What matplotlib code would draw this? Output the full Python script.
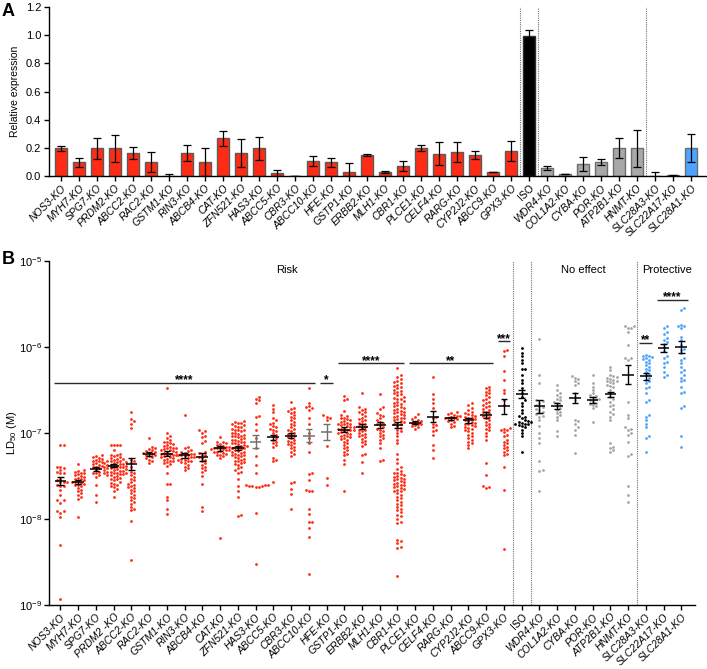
import numpy as np
import matplotlib
matplotlib.use('Agg')
import matplotlib.pyplot as plt
from matplotlib.ticker import NullLocator, FixedLocator
from matplotlib.transforms import blended_transform_factory

plt.rcParams['font.family'] = ['Liberation Sans', 'DejaVu Sans']
plt.rcParams['mathtext.fontset'] = 'custom'
plt.rcParams['mathtext.rm'] = 'Liberation Sans'
plt.rcParams['mathtext.it'] = 'Liberation Sans:italic'
plt.rcParams['mathtext.bf'] = 'Liberation Sans:bold'

# ---------------- data ----------------
labels_a = ['NOS3-KO', 'MYH7-KO', 'SPG7-KO', 'PRDM2-KO', 'ABCC2-KO', 'RAC2-KO', 'GSTM1-KO',
            'RIN3-KO', 'ABCB4-KO', 'CAT-KO', 'ZFN521-KO', 'HAS3-KO', 'ABCC5-KO', 'CBR3-KO',
            'ABCC10-KO', 'HFE-KO', 'GSTP1-KO', 'ERBB2-KO', 'MLH1-KO', 'CBR1-KO', 'PLCE1-KO',
            'CELF4-KO', 'RARG-KO', 'CYP2J2-KO', 'ABCC9-KO', 'GPX3-KO', 'ISO', 'WDR4-KO',
            'COL1A2-KO', 'CYBA-KO', 'POR-KO', 'ATP2B1-KO', 'HNMT-KO', 'SLC28A3-KO',
            'SLC22A17-KO', 'SLC28A1-KO']
labels_b = ['NOS3-KO', 'MYH7-KO', 'SPG7-KO', 'PRDM2 -KO', 'ABCC2-KO', 'RAC2-KO', 'GSTM1-KO',
            'RIN3-KO', 'ABCB4-KO', 'CAT-KO', 'ZFN521-KO', 'HAS3-KO', 'ABCC5-KO', 'CBR3-KO',
            'ABCC10-KO', 'HFE-KO', 'GSTP1-KO', 'ERBB2-KO', 'MLH1-KO', 'CBR1-KO', 'PLCE1-KO',
            'CELF4-KO', 'RARG-KO', 'CYP2J2-KO', 'ABCC9-KO', 'GPX3-KO', 'ISO', 'WDR4-KO',
            'COL1A2-KO', 'CYBA-KO', 'POR-KO', 'ATP2B1-KO', 'HNMT-KO', 'SLC28A3-KO',
            'SLC22A17-KO', 'SLC28A1-KO']
group_class = ['risk'] * 26 + ['iso'] + ['none'] * 6 + ['protective'] * 3

# Panel A: relative expression (mean, SD)
expr_mean = [0.196, 0.097, 0.196, 0.196, 0.163, 0.097, 0.0, 0.163, 0.097, 0.267, 0.163, 0.196,
             0.019, 0.0, 0.107, 0.097, 0.026, 0.149, 0.028, 0.071, 0.196, 0.159, 0.168, 0.149,
             0.028, 0.180, 0.996, 0.057, 0.014, 0.085, 0.097, 0.196, 0.196, 0.0, 0.005, 0.196]
expr_err = [0.017, 0.033, 0.072, 0.097, 0.043, 0.071, 0.017, 0.059, 0.100, 0.051, 0.097, 0.082,
            0.021, 0.0, 0.035, 0.033, 0.064, 0.004, 0.004, 0.034, 0.022, 0.079, 0.072, 0.031,
            0.003, 0.072, 0.038, 0.011, 0.003, 0.050, 0.022, 0.071, 0.130, 0.028, 0.005, 0.100]

# Panel B: log10 LD50 (M) of individual clones
nos3 = [-7.14, -7.14, -7.39, -7.39, -7.41, -7.43, -7.45, -7.47, -7.47, -7.53, -7.55, -7.57, -7.57,
        -7.57, -7.60, -7.62, -7.62, -7.66, -7.72, -7.78, -7.78, -7.81, -7.91, -7.91, -7.93, -7.98,
        -8.30, -8.93]
myh7 = [-7.36, -7.43, -7.44, -7.45, -7.46, -7.47, -7.48, -7.49, -7.50, -7.51, -7.52, -7.53, -7.54,
        -7.55, -7.56, -7.57, -7.57, -7.58, -7.59, -7.60, -7.61, -7.62, -7.64, -7.66, -7.68, -7.70,
        -7.72, -7.74, -7.77, -7.98]
spg7 = [-7.26, -7.27, -7.28, -7.29, -7.30, -7.31, -7.32, -7.33, -7.34, -7.35, -7.36, -7.37, -7.38,
        -7.39, -7.40, -7.41, -7.43, -7.45, -7.46, -7.47, -7.49, -7.51, -7.61, -7.72, -7.80]
prdm2 = [-7.14, -7.14, -7.14, -7.14, -7.20, -7.24, -7.25, -7.26, -7.27, -7.28, -7.29, -7.30, -7.30,
         -7.31, -7.32, -7.32, -7.33, -7.34, -7.34, -7.35, -7.35, -7.36, -7.36, -7.37, -7.37, -7.38,
         -7.38, -7.39, -7.39, -7.40, -7.40, -7.41, -7.41, -7.42, -7.42, -7.43, -7.43, -7.44, -7.44,
         -7.45, -7.45, -7.46, -7.46, -7.47, -7.47, -7.48, -7.48, -7.49, -7.49, -7.50, -7.51, -7.52,
         -7.53, -7.54, -7.55, -7.57, -7.58, -7.59, -7.60, -7.62, -7.63, -7.65, -7.68, -7.74]
abcc2 = [-6.76, -6.84, -6.86, -6.89, -6.94, -7.31, -7.33, -7.35, -7.39, -7.45, -7.47, -7.49, -7.51,
         -7.53, -7.55, -7.57, -7.59, -7.60, -7.62, -7.63, -7.64, -7.66, -7.68, -7.70, -7.72, -7.74,
         -7.76, -7.78, -7.80, -7.82, -7.86, -7.88, -7.90, -8.02, -8.48]
rac2 = [-7.06, -7.16, -7.18, -7.19, -7.20, -7.21, -7.22, -7.23, -7.23, -7.24, -7.25, -7.26, -7.27,
        -7.28, -7.29, -7.31, -7.32, -7.35]
gstm1 = [-6.48, -7.00, -7.04, -7.06, -7.08, -7.10, -7.11, -7.12, -7.13, -7.14, -7.15, -7.16, -7.17,
         -7.18, -7.18, -7.19, -7.20, -7.20, -7.21, -7.22, -7.22, -7.23, -7.24, -7.24, -7.25, -7.26,
         -7.26, -7.27, -7.28, -7.28, -7.29, -7.30, -7.31, -7.32, -7.33, -7.34, -7.35, -7.36, -7.38,
         -7.47, -7.59, -7.59, -7.74, -7.78, -7.88, -7.94]
rin3 = [-6.79, -7.16, -7.18, -7.20, -7.21, -7.22, -7.23, -7.24, -7.24, -7.25, -7.26, -7.26, -7.27,
        -7.28, -7.28, -7.29, -7.30, -7.31, -7.31, -7.32, -7.33, -7.34, -7.35, -7.37, -7.39, -7.41,
        -7.43]
abcb4 = [-6.97, -6.98, -7.00, -7.04, -7.05, -7.09, -7.12, -7.22, -7.23, -7.25, -7.26, -7.28, -7.29,
         -7.31, -7.33, -7.35, -7.37, -7.39, -7.41, -7.43, -7.45, -7.50, -7.59, -7.86, -7.91]
cat = [-7.05, -7.10, -7.11, -7.12, -7.13, -7.14, -7.15, -7.16, -7.16, -7.17, -7.17, -7.18, -7.18,
       -7.19, -7.19, -7.20, -7.20, -7.21, -7.22, -7.22, -7.23, -7.24, -7.25, -7.26, -7.27, -7.29,
       -8.22]
zfn521 = [-6.86, -6.87, -6.88, -6.88, -6.90, -6.91, -6.92, -6.93, -6.93, -6.95, -6.96, -6.97, -6.97,
          -6.98, -7.00, -7.00, -7.01, -7.02, -7.03, -7.04, -7.04, -7.05, -7.06, -7.07, -7.08, -7.08,
          -7.09, -7.10, -7.11, -7.12, -7.12, -7.13, -7.14, -7.15, -7.15, -7.16, -7.17, -7.18, -7.18,
          -7.19, -7.20, -7.21, -7.22, -7.22, -7.23, -7.24, -7.25, -7.26, -7.26, -7.27, -7.28, -7.29,
          -7.30, -7.31, -7.32, -7.33, -7.34, -7.35, -7.36, -7.37, -7.39, -7.41, -7.43, -7.45, -7.46,
          -7.54, -7.62, -7.68, -7.74, -7.95, -7.97]
has3 = [-6.58, -6.60, -6.62, -6.65, -6.80, -6.81, -6.89, -6.97, -7.06, -7.18, -7.27, -7.37, -7.47,
        -7.60, -7.61, -7.61, -7.62, -7.62, -7.62, -7.63, -7.63, -7.93, -8.52]
abcc5 = [-6.68, -6.72, -6.76, -6.83, -6.85, -6.88, -6.90, -6.92, -6.93, -6.95, -6.96, -6.98, -7.00,
         -7.02, -7.04, -7.06, -7.08, -7.10, -7.12, -7.14, -7.16, -7.29, -7.31, -7.33, -7.57]
cbr3 = [-6.64, -6.71, -6.72, -6.74, -6.75, -6.77, -6.79, -6.81, -6.83, -6.85, -6.87, -6.89, -6.91,
        -6.93, -6.95, -6.97, -6.98, -7.00, -7.01, -7.02, -7.04, -7.05, -7.06, -7.08, -7.09, -7.10,
        -7.12, -7.13, -7.14, -7.16, -7.18, -7.20, -7.22, -7.24, -7.27, -7.57, -7.58, -7.65, -7.71,
        -7.88]
abcc10 = [-6.48, -6.65, -6.69, -6.70, -6.71, -6.73, -6.83, -6.89, -7.00, -7.06, -7.12, -7.22, -7.46,
          -7.48, -7.55, -7.66, -7.67, -7.68, -7.88, -7.94, -8.03, -8.04, -8.10, -8.21, -8.64]
hfe = [-6.79, -6.81, -6.82, -6.85, -7.15, -7.52, -7.60]
gstp1 = [-6.57, -6.60, -6.62, -6.74, -6.79, -6.80, -6.82, -6.83, -6.84, -6.85, -6.86, -6.87, -6.88,
         -6.89, -6.90, -6.90, -6.91, -6.92, -6.93, -6.93, -6.94, -6.95, -6.95, -6.96, -6.97, -6.97,
         -6.98, -6.99, -7.00, -7.00, -7.01, -7.02, -7.03, -7.04, -7.05, -7.06, -7.07, -7.08, -7.10,
         -7.12, -7.14, -7.16, -7.18, -7.20, -7.22, -7.24, -7.26, -7.31, -7.36, -7.68]
erbb2 = [-6.54, -6.70, -6.72, -6.73, -6.75, -6.76, -6.78, -6.80, -6.82, -6.84, -6.85, -6.86, -6.88,
         -6.89, -6.90, -6.92, -6.93, -6.94, -6.96, -6.97, -6.98, -7.00, -7.01, -7.02, -7.04, -7.05,
         -7.07, -7.09, -7.11, -7.13, -7.15, -7.24, -7.26, -7.34, -7.46]
mlh1 = [-6.55, -6.70, -6.72, -6.77, -6.79, -6.80, -6.83, -6.85, -6.87, -6.88, -6.90, -6.91, -6.93,
        -6.95, -6.96, -6.98, -7.00, -7.02, -7.04, -7.06, -7.08, -7.12, -7.18, -7.31, -7.32]
cbr1 = [-6.24, -6.33, -6.35, -6.37, -6.39, -6.41, -6.42, -6.44, -6.45, -6.47, -6.48, -6.50, -6.51,
        -6.52, -6.54, -6.55, -6.56, -6.58, -6.59, -6.60, -6.61, -6.63, -6.64, -6.65, -6.66, -6.68,
        -6.69, -6.70, -6.71, -6.72, -6.73, -6.74, -6.75, -6.76, -6.77, -6.78, -6.79, -6.80, -6.81,
        -6.82, -6.83, -6.84, -6.85, -6.86, -6.87, -6.88, -6.89, -6.90, -6.92, -6.94, -6.96, -6.98,
        -7.00, -7.04, -7.08, -7.12, -7.24, -7.30, -7.35, -7.40, -7.42, -7.44, -7.46, -7.47, -7.48,
        -7.49, -7.50, -7.51, -7.52, -7.53, -7.54, -7.55, -7.56, -7.57, -7.58, -7.59, -7.60, -7.61,
        -7.62, -7.63, -7.64, -7.65, -7.66, -7.67, -7.68, -7.70, -7.72, -7.74, -7.76, -7.78, -7.80,
        -7.82, -7.84, -7.86, -7.88, -7.90, -7.92, -7.95, -7.97, -8.00, -8.04, -8.05, -8.24, -8.26,
        -8.28, -8.32, -8.34, -8.66]
plce1 = [-6.78, -6.81, -6.84, -6.85, -6.86, -6.87, -6.88, -6.89, -6.90, -6.91, -6.92, -6.93, -6.95]
celf4 = [-6.35, -6.55, -6.60, -6.65, -6.71, -6.81, -6.83, -6.89, -6.91, -6.93, -6.97, -6.98, -7.02,
         -7.14, -7.20, -7.29]
rarg = [-6.76, -6.77, -6.78, -6.79, -6.80, -6.80, -6.81, -6.82, -6.83, -6.83, -6.84, -6.85, -6.86,
        -6.87, -6.89, -6.92, -6.93]
cyp2j2 = [-6.65, -6.67, -6.71, -6.73, -6.75, -6.77, -6.78, -6.79, -6.80, -6.81, -6.82, -6.83, -6.84,
          -6.85, -6.86, -6.87, -6.88, -6.89, -6.90, -6.91, -6.92, -6.93, -6.94, -6.95, -6.97, -6.98,
          -7.00, -7.02, -7.04, -7.06, -7.08, -7.10, -7.12, -7.14, -7.18]
abcc9 = [-6.46, -6.48, -6.50, -6.52, -6.54, -6.56, -6.58, -6.60, -6.62, -6.64, -6.65, -6.67, -6.69,
         -6.70, -6.72, -6.73, -6.75, -6.76, -6.77, -6.79, -6.80, -6.81, -6.83, -6.85, -6.87, -6.89,
         -6.91, -6.93, -6.95, -6.97, -7.00, -7.04, -7.08, -7.35, -7.49, -7.62, -7.63, -7.64]
gpx3 = [-6.03, -6.05, -6.11, -6.28, -6.38, -6.50, -6.54, -6.62, -6.67, -6.94, -6.95, -6.96, -6.97,
        -6.99, -7.02, -7.04, -7.08, -7.10, -7.12, -7.14, -7.16, -7.18, -7.20, -7.22, -7.24, -7.26,
        -7.39, -7.66, -8.35]
iso = [-6.01, -6.07, -6.11, -6.15, -6.19, -6.25, -6.25, -6.33, -6.38, -6.42, -6.48, -6.54, -6.58,
       -6.62, -6.65, -6.69, -6.73, -6.77, -6.80, -6.81, -6.83, -6.85, -6.86, -6.87, -6.87, -6.88,
       -6.89, -6.89, -6.90, -6.91, -6.92, -6.93, -6.96, -7.00, -7.04, -7.22]
wdr4 = [-5.91, -6.32, -6.42, -6.62, -6.63, -6.65, -6.67, -6.69, -6.70, -6.72, -6.73, -6.75, -6.77,
        -6.78, -6.80, -6.81, -6.85, -6.92, -7.00, -7.06, -7.12, -7.33, -7.43, -7.44, -7.68]
col1a2 = [-6.44, -6.50, -6.54, -6.56, -6.58, -6.60, -6.62, -6.64, -6.65, -6.67, -6.69, -6.71, -6.73,
          -6.75, -6.77, -6.79, -6.81, -6.85, -6.98, -7.04]
cyba = [-6.34, -6.36, -6.37, -6.40, -6.42, -6.44, -6.54, -6.58, -6.62, -6.85, -6.86, -6.89, -6.93,
        -6.96, -7.02, -7.23]
por = [-6.33, -6.42, -6.46, -6.50, -6.54, -6.56, -6.57, -6.58, -6.60, -6.61, -6.62, -6.63, -6.65,
       -6.66, -6.67, -6.69, -6.71, -6.87]
atp2b1 = [-6.23, -6.27, -6.33, -6.34, -6.35, -6.36, -6.37, -6.38, -6.39, -6.40, -6.41, -6.42, -6.44,
          -6.45, -6.47, -6.50, -6.54, -6.58, -6.61, -6.64, -6.67, -6.69, -6.72, -6.75, -6.78, -6.81,
          -6.85, -7.12, -7.16, -7.18, -7.20, -7.22]
hnmt = [-5.76, -5.76, -5.78, -5.78, -5.82, -5.98, -6.13, -6.13, -6.15, -6.64, -6.79, -6.83, -6.93,
        -6.95, -6.96, -7.00, -7.02, -7.10, -7.24, -7.27, -7.62, -7.72, -7.80]
slc28a3 = [-6.09, -6.10, -6.11, -6.12, -6.13, -6.14, -6.15, -6.17, -6.19, -6.21, -6.23, -6.25, -6.27,
           -6.29, -6.31, -6.33, -6.36, -6.38, -6.40, -6.42, -6.46, -6.48, -6.54, -6.62, -6.64, -6.79,
           -6.81, -6.85, -6.89, -6.93, -7.04, -7.06, -7.22]
slc22a17 = [-5.76, -5.78, -5.82, -5.85, -5.90, -5.92, -5.94, -5.96, -6.00, -6.05, -6.11, -6.13, -6.17,
            -6.19, -6.23, -6.29, -6.33, -6.35]
slc28a1 = [-5.55, -5.57, -5.74, -5.75, -5.76, -5.78, -5.88, -5.92, -5.98, -6.02, -6.03, -6.07, -6.13,
           -6.15, -6.19, -6.23, -6.27, -6.29, -6.33, -6.36, -6.38, -6.40, -6.46, -6.52, -6.54, -6.69,
           -6.71, -7.04, -7.16]

# group means and SEM (log10 M)
ld50_mean_log = [-7.56, -7.57, -7.42, -7.38, -7.36, -7.24, -7.24, -7.26, -7.28, -7.18, -7.17, -7.10,
                 -7.05, -7.03, -7.03, -6.99, -6.96, -6.93, -6.91, -6.91, -6.88, -6.81, -6.83, -6.85,
                 -6.79, -6.69, -6.55, -6.69, -6.69, -6.59, -6.62, -6.55, -6.32, -6.34, -6.01, -6.00]
ld50_sem_log = [0.045, 0.027, 0.020, 0.020, 0.070, 0.023, 0.030, 0.030, 0.043, 0.026, 0.023, 0.072,
                0.027, 0.030, 0.078, 0.097, 0.029, 0.029, 0.035, 0.033, 0.017, 0.064, 0.020, 0.030,
                0.040, 0.091, 0.045, 0.078, 0.035, 0.058, 0.035, 0.030, 0.107, 0.040, 0.048, 0.066]
grey_mean_groups = ['HAS3-KO', 'ABCC10-KO', 'HFE-KO']

# significance brackets: (label, first group, last group, LD50 level in M)
sig_labels = ['****', '*', '****', '**', '***', '**', '****']
sig_first = ['NOS3-KO', 'HFE-KO', 'GSTP1-KO', 'PLCE1-KO', 'GPX3-KO', 'SLC28A3-KO', 'SLC22A17-KO']
sig_last = ['ABCC10-KO', 'HFE-KO', 'CBR1-KO', 'ABCC9-KO', 'GPX3-KO', 'SLC28A3-KO', 'SLC28A1-KO']
sig_level = [3.85e-7, 3.85e-7, 6.45e-7, 6.45e-7, 1.17e-6, 1.12e-6, 3.55e-6]

section_titles = ['Risk', 'No effect', 'Protective']
section_centres = [12.77, 29.46, 34.2]

ld50_groups = [nos3, myh7, spg7, prdm2, abcc2, rac2, gstm1, rin3, abcb4, cat, zfn521, has3, abcc5,
               cbr3, abcc10, hfe, gstp1, erbb2, mlh1, cbr1, plce1, celf4, rarg, cyp2j2, abcc9, gpx3,
               iso, wdr4, col1a2, cyba, por, atp2b1, hnmt, slc28a3, slc22a17, slc28a1]

# ---------------- style ----------------
RED = '#FF2B14'
GREY = '#A8A8A8'
BLUE = '#4DA3FF'
fill_col = {'risk': RED, 'iso': 'black', 'none': GREY, 'protective': BLUE}
edge_col = {'risk': '#5A5A5A', 'iso': '#303030', 'none': '#6E6E6E', 'protective': '#6E6E6E'}

W, H = 707, 669
fig = plt.figure(figsize=(W / 100, H / 100), dpi=100)

n = len(labels_a)
xs = np.arange(n)

# ---------------- panel A ----------------
axa = fig.add_axes([49 / W, 1 - 176 / H, (707 - 49) / W, (176 - 7) / H])
axa.bar(xs, expr_mean, width=0.63, color=[fill_col[c] for c in group_class],
        edgecolor=[edge_col[c] for c in group_class], linewidth=1.0, zorder=2)
axa.errorbar(xs, expr_mean, yerr=expr_err, fmt='none', ecolor='black', elinewidth=0.9,
             capsize=3.2, capthick=0.9, zorder=3)
axa.set_xlim(-0.667, 35.89)
axa.set_ylim(0, 1.2)
axa.set_yticks(np.arange(0, 1.21, 0.2))
axa.set_yticklabels(['%.1f' % v for v in np.arange(0, 1.21, 0.2)])
axa.set_ylabel('Relative expression', fontsize=7.5, labelpad=4)
axa.set_xticks(xs)
axa.set_xticklabels(labels_a, rotation=45, ha='right', va='top', rotation_mode='anchor',
                    fontsize=7.5)
for t, lab in zip(axa.get_xticklabels(), labels_a):
    if lab != 'ISO':
        t.set_fontstyle('italic')
for x in [25.5, 26.5, 32.5]:
    axa.axvline(x, color='#707070', ls=(0, (1, 1)), lw=0.8, zorder=1)

# ---------------- panel B ----------------
axb = fig.add_axes([49.3 / W, 1 - 605 / H, (695 - 49.3) / W, (605 - 261) / H])
axb.set_yscale('log')
axb.set_ylim(1e-9, 1e-5)
axb.set_xlim(-0.626, 35.77)
axb.yaxis.set_major_locator(FixedLocator([1e-9, 1e-8, 1e-7, 1e-6, 1e-5]))
axb.yaxis.set_minor_locator(NullLocator())
axb.set_ylabel('LD$_{50}$ (M)', fontsize=8, labelpad=0)
axb.set_xticks(xs)
axb.set_xticklabels(labels_b, rotation=45, ha='right', va='top', rotation_mode='anchor',
                    fontsize=7.5)
for t, lab in zip(axb.get_xticklabels(), labels_b):
    if lab != 'ISO':
        t.set_fontstyle('italic')


def swarm(y_px, d):
    order = np.argsort(y_px)
    offs = np.zeros(len(y_px))
    placed_y, placed_x = [], []
    step = d / 2.0
    for idx in order:
        y = y_px[idx]
        near = [(px, py) for px, py in zip(placed_x, placed_y) if abs(py - y) < d]
        k = 0
        while True:
            cands = [0.0] if k == 0 else [k * step, -k * step]
            ok = None
            for c in cands:
                if all((c - px) ** 2 + (y - py) ** 2 >= (0.98 * d) ** 2 for px, py in near):
                    ok = c
                    break
            if ok is not None:
                offs[idx] = ok
                break
            k += 1
        placed_x.append(offs[idx])
        placed_y.append(y)
    return offs


px_per_cat = axb.transData.transform((1, 1e-7))[0] - axb.transData.transform((0, 1e-7))[0]
pt_col = {'risk': RED, 'iso': 'black', 'none': '#A6A6A6', 'protective': BLUE}
for i, vals in enumerate(ld50_groups):
    v = 10.0 ** np.array(vals)
    ypx = axb.transData.transform(np.column_stack([np.full(len(v), i), v]))[:, 1]
    off = swarm(ypx, 3.1) / px_per_cat
    axb.scatter(i + off, v, s=4.0, color=pt_col[group_class[i]], linewidths=0, zorder=2)
    m = ld50_mean_log[i]
    s = ld50_sem_log[i]
    mc = '#707070' if labels_b[i].replace(' ', '') in grey_mean_groups else 'black'
    axb.hlines(10 ** m, i - 0.33, i + 0.33, color=mc, lw=1.1, zorder=4)
    axb.vlines(i, 10 ** (m - s), 10 ** (m + s), color=mc, lw=1.0, zorder=4)
    axb.hlines([10 ** (m - s), 10 ** (m + s)], i - 0.18, i + 0.18, color=mc, lw=1.0, zorder=4)

for x in [25.5, 26.5, 32.5]:
    axb.axvline(x, color='#707070', ls=(0, (1, 1)), lw=0.8, zorder=1)

lab_clean = [l.replace(' ', '') for l in labels_b]
for lab, a, b, lev in zip(sig_labels, sig_first, sig_last, sig_level):
    i0 = lab_clean.index(a)
    i1 = lab_clean.index(b)
    x0, x1 = i0 - 0.36, i1 + 0.36
    axb.plot([x0, x1], [lev, lev], color='#2a2a2a', lw=1.0, zorder=3, solid_capstyle='butt')
    axb.annotate(lab, xy=((x0 + x1) / 2, lev), xytext=(0, -0.5), textcoords='offset points',
                 ha='center', va='baseline', fontsize=8.5, fontweight='bold')

trans = blended_transform_factory(axb.transData, axb.transAxes)
for t, xc in zip(section_titles, section_centres):
    axb.text(xc, 0.974, t, transform=trans, ha='center', va='center', fontsize=8)

for ax in (axa, axb):
    ax.spines['top'].set_visible(False)
    ax.spines['right'].set_visible(False)
    ax.spines['left'].set_linewidth(1.0)
    ax.spines['bottom'].set_linewidth(1.0)
    ax.tick_params(axis='both', direction='out', length=3.5, width=1.0, labelsize=8, pad=2)
    ax.tick_params(axis='x', pad=1.5, labelsize=7.5)

fig.text(2 / W, 1 - 3 / H, 'A', ha='left', va='top', fontsize=13, fontweight='bold')
fig.text(2 / W, 1 - 251 / H, 'B', ha='left', va='top', fontsize=13, fontweight='bold')

fig.savefig('out.png', dpi=100)
